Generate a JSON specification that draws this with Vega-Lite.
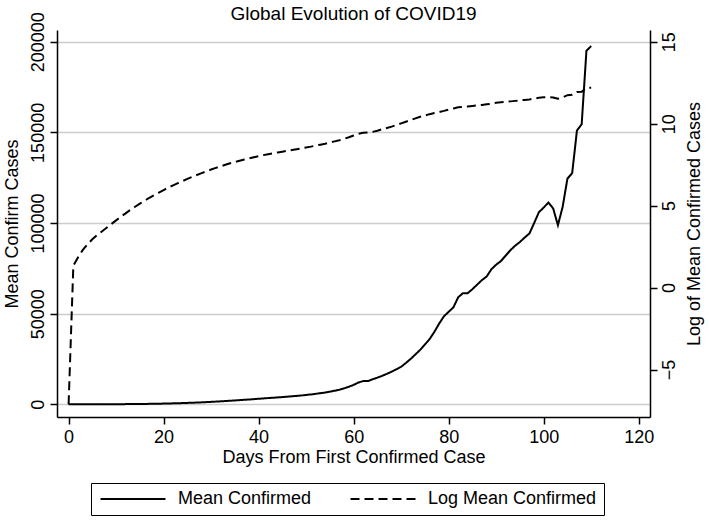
{
  "$schema": "https://vega.github.io/schema/vega-lite/v6.json",
  "width": 593,
  "height": 387,
  "autosize": {"type": "none"},
  "padding": {"left": 57, "top": 30, "right": 59, "bottom": 103},
  "background": "white",
  "title": {
    "text": "Global Evolution of COVID19",
    "font": "Liberation Sans",
    "fontSize": 19,
    "fontWeight": "normal",
    "color": "black",
    "anchor": "middle",
    "offset": -12
  },
  "config": {
    "view": {"stroke": null},
    "axis": {
      "labelFont": "Liberation Sans",
      "titleFont": "Liberation Sans",
      "labelFontSize": 18,
      "titleFontSize": 18,
      "titleFontWeight": "normal",
      "labelColor": "black",
      "titleColor": "black",
      "domainColor": "black",
      "domainWidth": 1.5,
      "tickColor": "black",
      "tickWidth": 1.5,
      "tickSize": 7,
      "gridColor": "#cccccc",
      "gridWidth": 1.5
    },
    "legend": {
      "labelFont": "Liberation Sans",
      "labelFontSize": 18,
      "labelColor": "black"
    }
  },
  "data": {
    "values": [
      {"day": 0, "mean": 0.0008, "logmean": -7.12},
      {"day": 1, "mean": 3.8, "logmean": 1.33},
      {"day": 2, "mean": 6.4, "logmean": 1.85},
      {"day": 3, "mean": 10, "logmean": 2.3},
      {"day": 4, "mean": 14, "logmean": 2.65},
      {"day": 5, "mean": 19, "logmean": 2.95},
      {"day": 6, "mean": 25, "logmean": 3.2},
      {"day": 7, "mean": 31, "logmean": 3.42},
      {"day": 8, "mean": 38, "logmean": 3.65},
      {"day": 9, "mean": 48, "logmean": 3.88},
      {"day": 10, "mean": 60, "logmean": 4.1},
      {"day": 11, "mean": 75, "logmean": 4.32},
      {"day": 12, "mean": 93, "logmean": 4.53},
      {"day": 13, "mean": 114, "logmean": 4.74},
      {"day": 14, "mean": 138, "logmean": 4.93},
      {"day": 15, "mean": 167, "logmean": 5.12},
      {"day": 16, "mean": 200, "logmean": 5.3},
      {"day": 17, "mean": 239, "logmean": 5.48},
      {"day": 18, "mean": 281, "logmean": 5.64},
      {"day": 19, "mean": 330, "logmean": 5.8},
      {"day": 20, "mean": 384, "logmean": 5.95},
      {"day": 21, "mean": 446, "logmean": 6.1},
      {"day": 22, "mean": 513, "logmean": 6.24},
      {"day": 23, "mean": 584, "logmean": 6.37},
      {"day": 24, "mean": 665, "logmean": 6.5},
      {"day": 25, "mean": 757, "logmean": 6.63},
      {"day": 26, "mean": 854, "logmean": 6.75},
      {"day": 27, "mean": 962, "logmean": 6.87},
      {"day": 28, "mean": 1075, "logmean": 6.98},
      {"day": 29, "mean": 1200, "logmean": 7.09},
      {"day": 30, "mean": 1340, "logmean": 7.2},
      {"day": 31, "mean": 1480, "logmean": 7.3},
      {"day": 32, "mean": 1630, "logmean": 7.4},
      {"day": 33, "mean": 1790, "logmean": 7.49},
      {"day": 34, "mean": 1960, "logmean": 7.58},
      {"day": 35, "mean": 2120, "logmean": 7.66},
      {"day": 36, "mean": 2300, "logmean": 7.74},
      {"day": 37, "mean": 2470, "logmean": 7.81},
      {"day": 38, "mean": 2650, "logmean": 7.88},
      {"day": 39, "mean": 2840, "logmean": 7.95},
      {"day": 40, "mean": 3040, "logmean": 8.02},
      {"day": 41, "mean": 3230, "logmean": 8.08},
      {"day": 42, "mean": 3430, "logmean": 8.14},
      {"day": 43, "mean": 3610, "logmean": 8.19},
      {"day": 44, "mean": 3790, "logmean": 8.24},
      {"day": 45, "mean": 3980, "logmean": 8.29},
      {"day": 46, "mean": 4180, "logmean": 8.34},
      {"day": 47, "mean": 4400, "logmean": 8.39},
      {"day": 48, "mean": 4620, "logmean": 8.44},
      {"day": 49, "mean": 4860, "logmean": 8.49},
      {"day": 50, "mean": 5160, "logmean": 8.55},
      {"day": 51, "mean": 5430, "logmean": 8.6},
      {"day": 52, "mean": 5760, "logmean": 8.66},
      {"day": 53, "mean": 6120, "logmean": 8.72},
      {"day": 54, "mean": 6500, "logmean": 8.78},
      {"day": 55, "mean": 6970, "logmean": 8.85},
      {"day": 56, "mean": 7480, "logmean": 8.92},
      {"day": 57, "mean": 8020, "logmean": 8.99},
      {"day": 58, "mean": 8800, "logmean": 9.08},
      {"day": 59, "mean": 9700, "logmean": 9.17},
      {"day": 60, "mean": 10700, "logmean": 9.28},
      {"day": 61, "mean": 12000, "logmean": 9.38},
      {"day": 62, "mean": 12800, "logmean": 9.44},
      {"day": 63, "mean": 12800, "logmean": 9.47},
      {"day": 64, "mean": 13800, "logmean": 9.5},
      {"day": 65, "mean": 14700, "logmean": 9.57},
      {"day": 66, "mean": 15700, "logmean": 9.66},
      {"day": 67, "mean": 16800, "logmean": 9.74},
      {"day": 68, "mean": 18000, "logmean": 9.82},
      {"day": 69, "mean": 19300, "logmean": 9.92},
      {"day": 70, "mean": 20700, "logmean": 10.02},
      {"day": 71, "mean": 22800, "logmean": 10.12},
      {"day": 72, "mean": 25000, "logmean": 10.22},
      {"day": 73, "mean": 27500, "logmean": 10.32},
      {"day": 74, "mean": 30000, "logmean": 10.42},
      {"day": 75, "mean": 33000, "logmean": 10.5},
      {"day": 76, "mean": 36000, "logmean": 10.58},
      {"day": 77, "mean": 40000, "logmean": 10.65},
      {"day": 78, "mean": 44500, "logmean": 10.71},
      {"day": 79, "mean": 48500, "logmean": 10.78},
      {"day": 80, "mean": 51000, "logmean": 10.86},
      {"day": 81, "mean": 53500, "logmean": 10.93},
      {"day": 82, "mean": 59000, "logmean": 11.0},
      {"day": 83, "mean": 61300, "logmean": 11.03},
      {"day": 84, "mean": 61300, "logmean": 11.05},
      {"day": 85, "mean": 63500, "logmean": 11.08},
      {"day": 86, "mean": 66000, "logmean": 11.11},
      {"day": 87, "mean": 68500, "logmean": 11.14},
      {"day": 88, "mean": 70500, "logmean": 11.18},
      {"day": 89, "mean": 74500, "logmean": 11.22},
      {"day": 90, "mean": 77000, "logmean": 11.27},
      {"day": 91, "mean": 79000, "logmean": 11.3},
      {"day": 92, "mean": 82000, "logmean": 11.33},
      {"day": 93, "mean": 85000, "logmean": 11.36},
      {"day": 94, "mean": 87500, "logmean": 11.39},
      {"day": 95, "mean": 89500, "logmean": 11.42},
      {"day": 96, "mean": 92000, "logmean": 11.45},
      {"day": 97, "mean": 94200, "logmean": 11.48},
      {"day": 98, "mean": 100000, "logmean": 11.53},
      {"day": 99, "mean": 106000, "logmean": 11.58},
      {"day": 100, "mean": 108500, "logmean": 11.61},
      {"day": 101, "mean": 111300, "logmean": 11.63},
      {"day": 102, "mean": 108000, "logmean": 11.6},
      {"day": 103, "mean": 98800, "logmean": 11.52},
      {"day": 104, "mean": 109000, "logmean": 11.6},
      {"day": 105, "mean": 124500, "logmean": 11.74},
      {"day": 106, "mean": 127500, "logmean": 11.76},
      {"day": 107, "mean": 151000, "logmean": 11.93},
      {"day": 108, "mean": 154500, "logmean": 11.95},
      {"day": 109, "mean": 195000, "logmean": 12.18},
      {"day": 110, "mean": 197600, "logmean": 12.19}
    ]
  },
  "encoding": {
    "x": {
      "field": "day",
      "type": "quantitative",
      "scale": {"domain": [-2.44, 122.38], "nice": false, "zero": false},
      "axis": {
        "values": [0, 20, 40, 60, 80, 100, 120],
        "grid": false,
        "title": "Days From First Confirmed Case",
        "labelPadding": 4,
        "titlePadding": 2
      }
    }
  },
  "layer": [
    {
      "mark": {"type": "line", "color": "black", "strokeWidth": 2},
      "encoding": {
        "y": {
          "field": "mean",
          "type": "quantitative",
          "scale": {"domain": [-7011, 206459], "nice": false, "zero": false},
          "axis": {
            "orient": "left",
            "values": [0, 50000, 100000, 150000, 200000],
            "format": "d",
            "labelAngle": 270,
            "grid": true,
            "title": "Mean Confirm Cases",
            "labelPadding": 3,
            "titlePadding": 8
          }
        },
        "strokeDash": {
          "datum": "Mean Confirmed",
          "type": "nominal",
          "scale": {"domain": ["Mean Confirmed", "Log Mean Confirmed"], "range": [[1, 0], [9, 5]]},
          "legend": {
            "title": null,
            "orient": "none",
            "legendX": 34,
            "legendY": 453,
            "direction": "horizontal",
            "columns": 2,
            "symbolType": "M-5,0H5",
            "symbolSize": 169,
            "symbolStrokeWidth": 1.8,
            "symbolStrokeColor": "black",
            "symbolOffset": 26,
            "strokeColor": "black",
            "padding": 7,
            "columnPadding": 34,
            "labelOffset": 36,
            "labelLimit": 300
          }
        }
      }
    },
    {
      "mark": {"type": "line", "color": "black", "strokeWidth": 2},
      "encoding": {
        "y": {
          "field": "logmean",
          "type": "quantitative",
          "scale": {"domain": [-7.895, 15.714], "nice": false, "zero": false},
          "axis": {
            "orient": "right",
            "values": [-5, 0, 5, 10, 15],
            "labelAngle": 270,
            "grid": false,
            "title": "Log of Mean Confirmed Cases",
            "titleAngle": 270,
            "labelPadding": 3,
            "titlePadding": 25
          }
        },
        "strokeDash": {"datum": "Log Mean Confirmed", "type": "nominal"}
      }
    }
  ],
  "resolve": {"scale": {"y": "independent"}}
}
